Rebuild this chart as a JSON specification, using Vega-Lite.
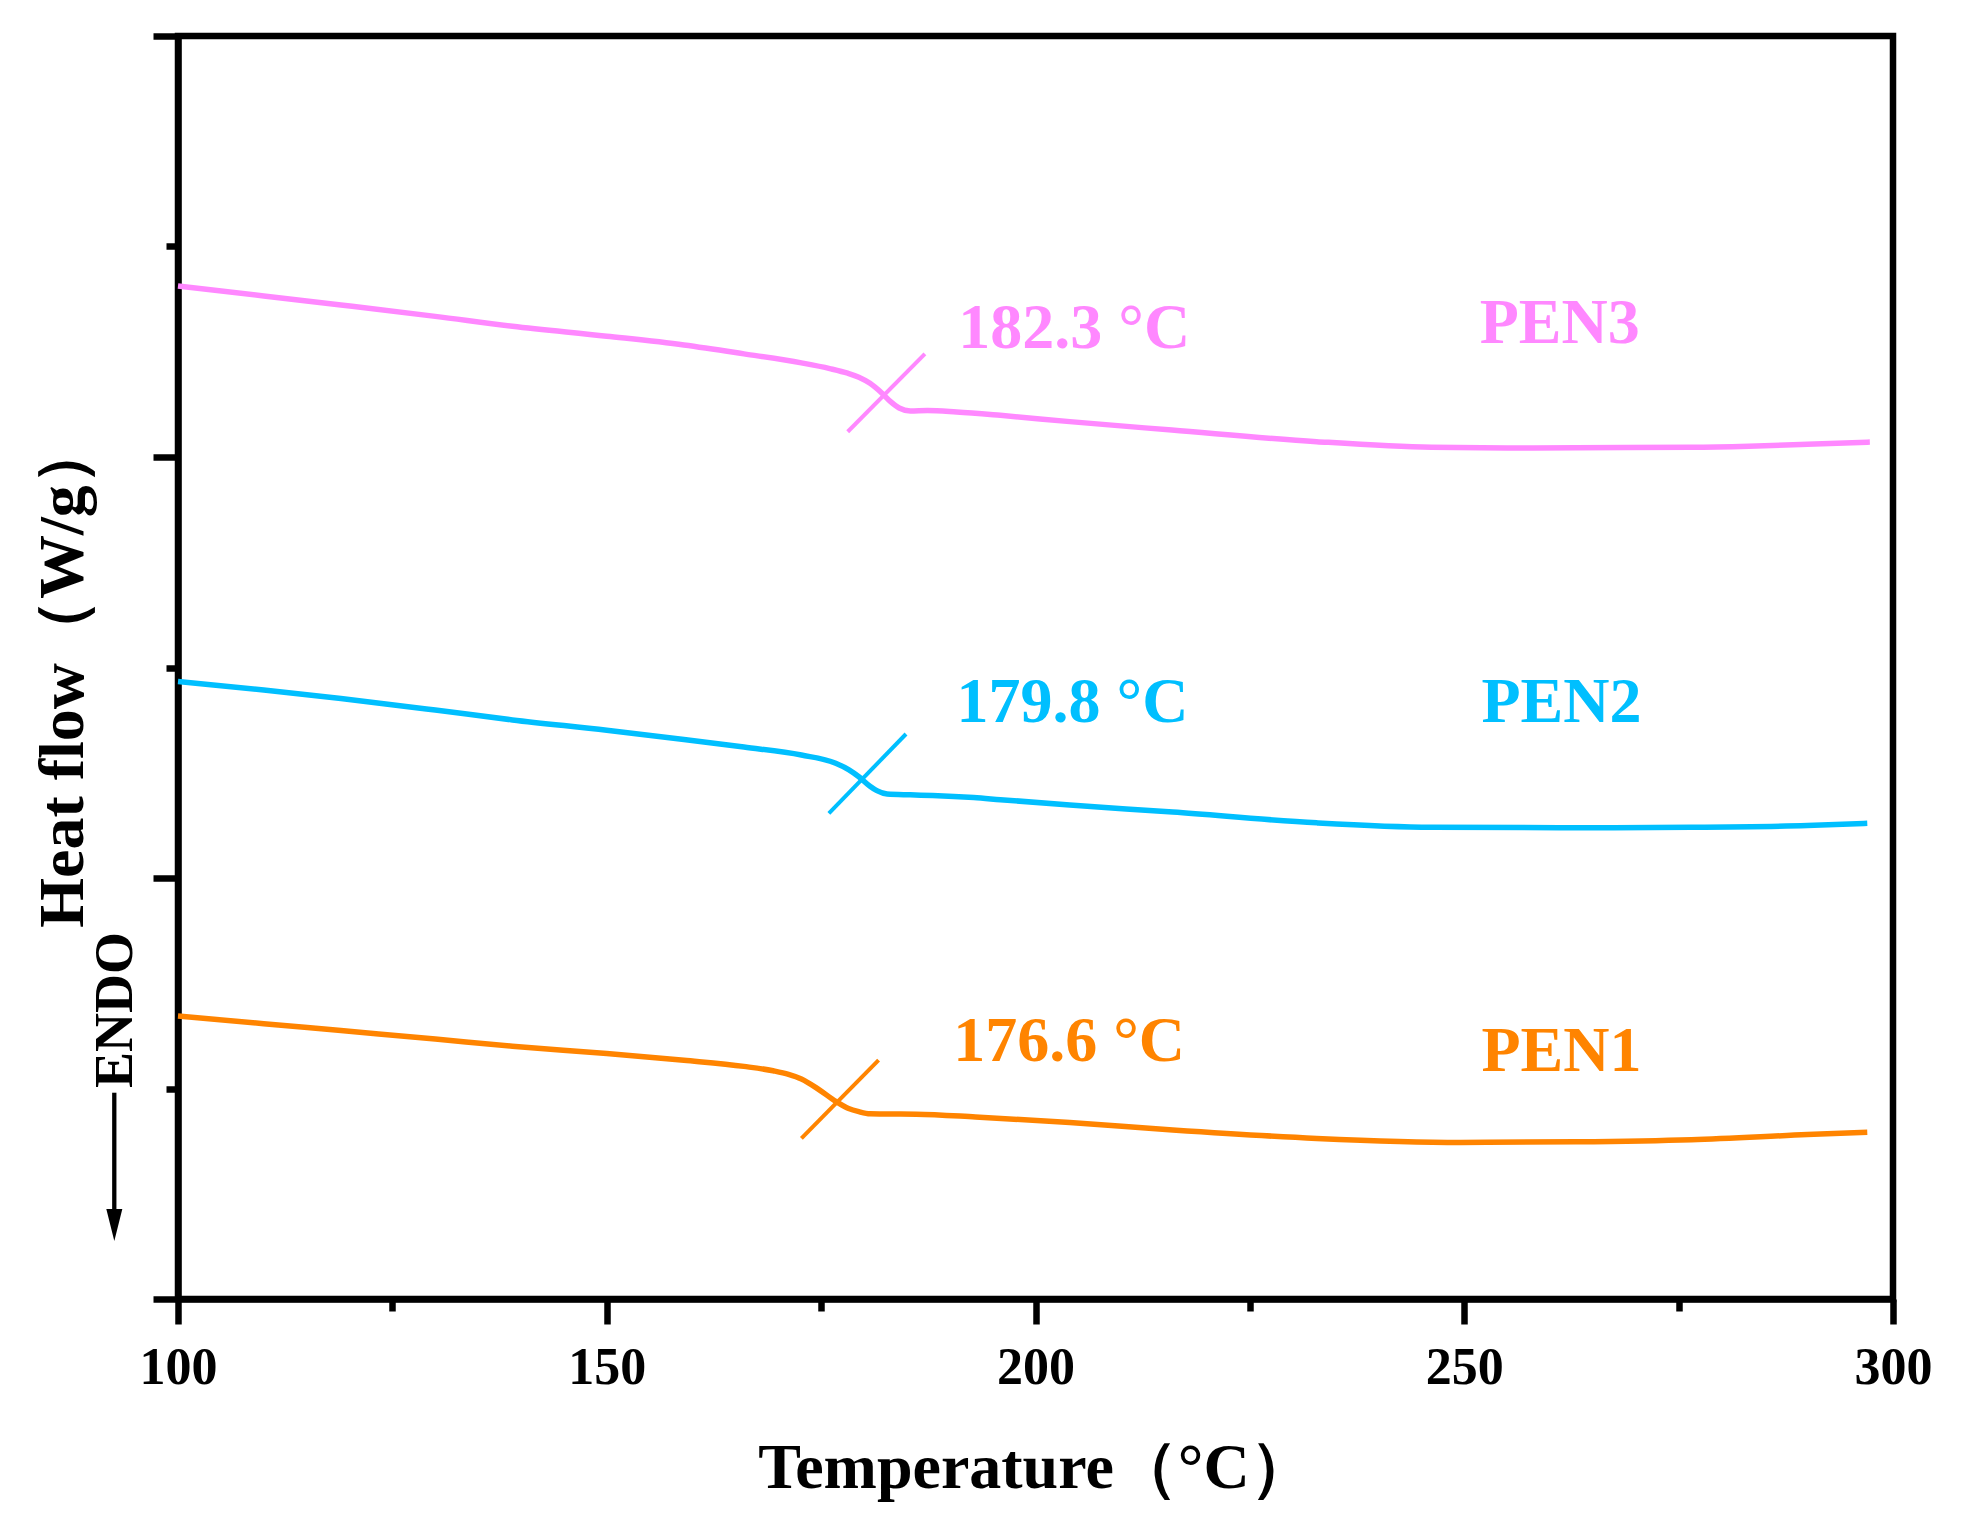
{
  "$schema": "https://vega.github.io/schema/vega-lite/v6.json",
  "width": 1715,
  "height": 1263,
  "autosize": {"type": "none"},
  "padding": {"left": 178, "top": 36, "right": 72, "bottom": 233},
  "background": "white",
  "datasets": {
    "curves": [
      {"series": "PEN3", "t": 100, "hf": 4.812},
      {"series": "PEN3", "t": 110, "hf": 4.765},
      {"series": "PEN3", "t": 119, "hf": 4.722},
      {"series": "PEN3", "t": 130, "hf": 4.668},
      {"series": "PEN3", "t": 139, "hf": 4.621},
      {"series": "PEN3", "t": 150, "hf": 4.574},
      {"series": "PEN3", "t": 159, "hf": 4.532},
      {"series": "PEN3", "t": 166, "hf": 4.49},
      {"series": "PEN3", "t": 172.7, "hf": 4.447},
      {"series": "PEN3", "t": 176, "hf": 4.42},
      {"series": "PEN3", "t": 178.1, "hf": 4.398},
      {"series": "PEN3", "t": 179.4, "hf": 4.379},
      {"series": "PEN3", "t": 180.7, "hf": 4.35},
      {"series": "PEN3", "t": 182.1, "hf": 4.303},
      {"series": "PEN3", "t": 183.1, "hf": 4.263},
      {"series": "PEN3", "t": 184.1, "hf": 4.233},
      {"series": "PEN3", "t": 185.4, "hf": 4.219},
      {"series": "PEN3", "t": 187.4, "hf": 4.221},
      {"series": "PEN3", "t": 190.8, "hf": 4.214},
      {"series": "PEN3", "t": 195.9, "hf": 4.198},
      {"series": "PEN3", "t": 204, "hf": 4.168},
      {"series": "PEN3", "t": 215.9, "hf": 4.128},
      {"series": "PEN3", "t": 232.8, "hf": 4.073},
      {"series": "PEN3", "t": 246.2, "hf": 4.046},
      {"series": "PEN3", "t": 255, "hf": 4.043},
      {"series": "PEN3", "t": 263, "hf": 4.044},
      {"series": "PEN3", "t": 276.5, "hf": 4.046},
      {"series": "PEN3", "t": 283.2, "hf": 4.051},
      {"series": "PEN3", "t": 290, "hf": 4.06},
      {"series": "PEN3", "t": 297.3, "hf": 4.071},
      {"series": "PEN2", "t": 100, "hf": 2.933},
      {"series": "PEN2", "t": 110, "hf": 2.893},
      {"series": "PEN2", "t": 119, "hf": 2.853},
      {"series": "PEN2", "t": 130, "hf": 2.798},
      {"series": "PEN2", "t": 139, "hf": 2.751},
      {"series": "PEN2", "t": 150, "hf": 2.702},
      {"series": "PEN2", "t": 159, "hf": 2.658},
      {"series": "PEN2", "t": 166, "hf": 2.622},
      {"series": "PEN2", "t": 172.7, "hf": 2.584},
      {"series": "PEN2", "t": 176.7, "hf": 2.545},
      {"series": "PEN2", "t": 178.2, "hf": 2.515},
      {"series": "PEN2", "t": 179.4, "hf": 2.481},
      {"series": "PEN2", "t": 180.7, "hf": 2.436},
      {"series": "PEN2", "t": 181.5, "hf": 2.415},
      {"series": "PEN2", "t": 182.7, "hf": 2.399},
      {"series": "PEN2", "t": 185.4, "hf": 2.395},
      {"series": "PEN2", "t": 188, "hf": 2.392},
      {"series": "PEN2", "t": 192.8, "hf": 2.382},
      {"series": "PEN2", "t": 195.9, "hf": 2.372},
      {"series": "PEN2", "t": 204, "hf": 2.347},
      {"series": "PEN2", "t": 216, "hf": 2.313},
      {"series": "PEN2", "t": 232.8, "hf": 2.262},
      {"series": "PEN2", "t": 246.2, "hf": 2.241},
      {"series": "PEN2", "t": 263, "hf": 2.239},
      {"series": "PEN2", "t": 276.5, "hf": 2.241},
      {"series": "PEN2", "t": 290, "hf": 2.249},
      {"series": "PEN2", "t": 297, "hf": 2.26},
      {"series": "PEN1", "t": 100, "hf": 1.344},
      {"series": "PEN1", "t": 110, "hf": 1.308},
      {"series": "PEN1", "t": 119, "hf": 1.275},
      {"series": "PEN1", "t": 130, "hf": 1.235},
      {"series": "PEN1", "t": 139, "hf": 1.201},
      {"series": "PEN1", "t": 150, "hf": 1.166},
      {"series": "PEN1", "t": 159, "hf": 1.134},
      {"series": "PEN1", "t": 166, "hf": 1.105},
      {"series": "PEN1", "t": 169.4, "hf": 1.084},
      {"series": "PEN1", "t": 171.2, "hf": 1.067},
      {"series": "PEN1", "t": 172.7, "hf": 1.045},
      {"series": "PEN1", "t": 174.7, "hf": 0.996},
      {"series": "PEN1", "t": 176.7, "hf": 0.939},
      {"series": "PEN1", "t": 178.2, "hf": 0.905},
      {"series": "PEN1", "t": 179.4, "hf": 0.89},
      {"series": "PEN1", "t": 180.7, "hf": 0.88},
      {"series": "PEN1", "t": 183, "hf": 0.879},
      {"series": "PEN1", "t": 186.1, "hf": 0.878},
      {"series": "PEN1", "t": 193, "hf": 0.865},
      {"series": "PEN1", "t": 204, "hf": 0.838},
      {"series": "PEN1", "t": 216, "hf": 0.803},
      {"series": "PEN1", "t": 232.8, "hf": 0.763},
      {"series": "PEN1", "t": 249.6, "hf": 0.744},
      {"series": "PEN1", "t": 263, "hf": 0.747},
      {"series": "PEN1", "t": 276.5, "hf": 0.757},
      {"series": "PEN1", "t": 290, "hf": 0.781},
      {"series": "PEN1", "t": 297, "hf": 0.792}
    ],
    "tangents": [
      {"series": "PEN3", "t1": 178.1, "h1": 4.12, "t2": 187.1, "h2": 4.49},
      {"series": "PEN2", "t1": 175.9, "h1": 2.307, "t2": 184.9, "h2": 2.684},
      {"series": "PEN1", "t1": 172.7, "h1": 0.763, "t2": 181.7, "h2": 1.135}
    ],
    "labels": [
      {"series": "PEN3", "t": 191.0, "hf": 4.519, "text": "182.3 °C"},
      {"series": "PEN3", "t": 251.8, "hf": 4.543, "text": "PEN3"},
      {"series": "PEN2", "t": 190.8, "hf": 2.741, "text": "179.8 °C"},
      {"series": "PEN2", "t": 252.0, "hf": 2.741, "text": "PEN2"},
      {"series": "PEN1", "t": 190.4, "hf": 1.13, "text": "176.6 °C"},
      {"series": "PEN1", "t": 252.0, "hf": 1.083, "text": "PEN1"}
    ],
    "endo": [
      {"t": 92.57, "top": 0.98, "bottom": 0.4, "head": 0.352, "tt": 94.64, "th": 1.373, "text": "ENDO"}
    ]
  },
  "resolve": {"axis": {"x": "independent", "y": "independent"}},
  "layer": [
    {
      "data": {"name": "curves"},
      "mark": {"type": "line", "strokeWidth": 5.5, "interpolate": "monotone", "clip": false},
      "encoding": {
        "x": {
          "field": "t", "type": "quantitative",
          "scale": {"domain": [100, 300], "nice": false, "zero": false},
          "axis": {
            "orient": "bottom",
            "values": [100, 150, 200, 250, 300],
            "grid": false,
            "tickSize": 25, "tickWidth": 6.5, "tickColor": "black",
            "domainWidth": 6.5, "domainColor": "black",
            "labelFont": "Liberation Serif", "labelFontWeight": "bold", "labelFontSize": 52,
            "labelColor": "black", "labelBaseline": "alphabetic", "labelPadding": 59,
            "labelFlush": false, "labelOverlap": false,
            "title": "Temperature（°C）",
            "titleFont": "Liberation Serif", "titleFontWeight": "bold", "titleFontSize": 64,
            "titleColor": "black", "titleBaseline": "alphabetic", "titleY": 188
          }
        },
        "y": {
          "field": "hf", "type": "quantitative",
          "scale": {"domain": [0, 6], "nice": false, "zero": false},
          "axis": {
            "orient": "left",
            "values": [0, 2, 4, 6],
            "grid": false, "labels": false,
            "tickSize": 25, "tickWidth": 6.5, "tickColor": "black",
            "domainWidth": 6.5, "domainColor": "black",
            "title": "Heat flow（W/g）",
            "titleFont": "Liberation Serif", "titleFontWeight": "bold", "titleFontSize": 64,
            "titleColor": "black", "titleAngle": 270, "titleAlign": "center",
            "titleBaseline": "alphabetic", "titleX": -96, "titleY": 638
          }
        },
        "color": {
          "field": "series", "type": "nominal",
          "scale": {"domain": ["PEN1", "PEN2", "PEN3"], "range": ["#FF8400", "#00BFFF", "#FF88FF"]},
          "legend": null
        },
        "detail": {"field": "series"}
      }
    },
    {
      "data": {"name": "tangents"},
      "mark": {"type": "rule", "strokeWidth": 4},
      "encoding": {
        "x": {
          "field": "t1", "type": "quantitative",
          "axis": {
            "orient": "bottom",
            "values": [125, 175, 225, 275],
            "grid": false, "labels": false, "domain": false, "title": null,
            "tickSize": 12, "tickWidth": 6.5, "tickColor": "black"
          }
        },
        "x2": {"field": "t2"},
        "y": {
          "field": "h1", "type": "quantitative",
          "axis": {
            "orient": "left",
            "values": [1, 3, 5],
            "grid": false, "labels": false, "domain": false, "title": null,
            "tickSize": 12, "tickWidth": 6.5, "tickColor": "black"
          }
        },
        "y2": {"field": "h2"},
        "color": {"field": "series", "type": "nominal", "legend": null}
      }
    },
    {
      "data": {"name": "labels"},
      "mark": {
        "type": "text", "align": "left", "baseline": "alphabetic",
        "font": "Liberation Serif", "fontWeight": "bold", "fontSize": 64
      },
      "encoding": {
        "x": {"field": "t", "type": "quantitative", "axis": null},
        "y": {"field": "hf", "type": "quantitative", "axis": null},
        "text": {"field": "text"},
        "color": {"field": "series", "type": "nominal", "legend": null}
      }
    },
    {
      "data": {"name": "endo"},
      "mark": {"type": "rule", "strokeWidth": 4.3, "color": "black", "clip": false},
      "encoding": {
        "x": {"field": "t", "type": "quantitative", "axis": null},
        "y": {"field": "top", "type": "quantitative", "axis": null},
        "y2": {"field": "bottom"}
      }
    },
    {
      "data": {"name": "endo"},
      "mark": {
        "type": "point", "filled": true, "color": "black", "opacity": 1,
        "shape": "M-0.5,-1L0.5,-1L0,1Z", "size": 1024, "clip": false
      },
      "encoding": {
        "x": {"field": "t", "type": "quantitative", "axis": null},
        "y": {"field": "head", "type": "quantitative", "axis": null}
      }
    },
    {
      "data": {"name": "endo"},
      "mark": {
        "type": "text", "angle": 270, "align": "center", "baseline": "alphabetic",
        "font": "Liberation Serif", "fontWeight": "bold", "fontSize": 54,
        "color": "black", "clip": false
      },
      "encoding": {
        "x": {"field": "tt", "type": "quantitative", "axis": null},
        "y": {"field": "th", "type": "quantitative", "axis": null},
        "text": {"field": "text"}
      }
    }
  ],
  "config": {
    "view": {"stroke": "black", "strokeWidth": 6.5},
    "axis": {"grid": false}
  }
}
